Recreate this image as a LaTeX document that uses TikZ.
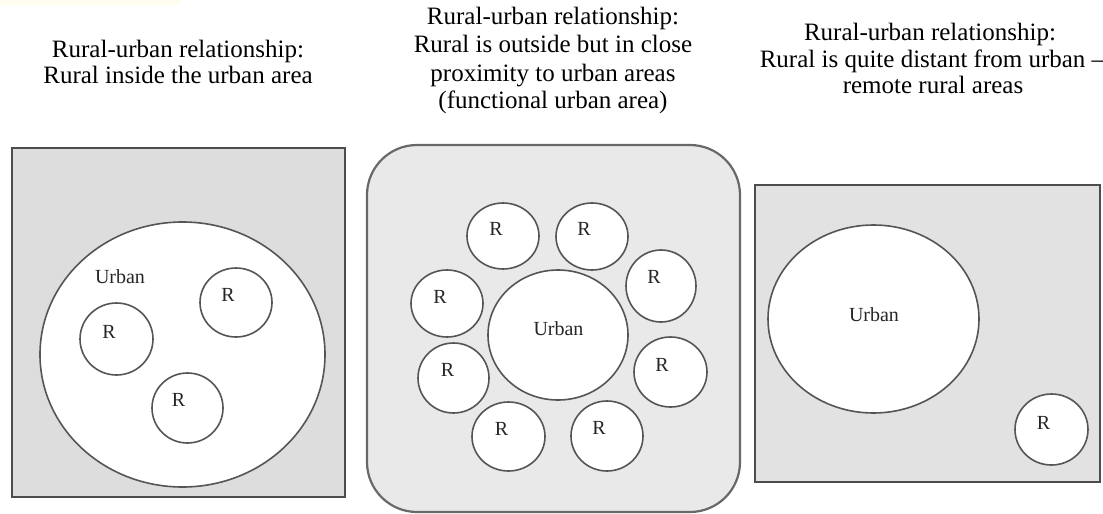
\documentclass[tikz,border=0pt]{standalone}
\usepackage{fontspec}
\setmainfont{Liberation Serif}
\definecolor{lineg}{HTML}{555555}
\definecolor{frameg}{HTML}{4D4D4D}
\definecolor{fillA}{HTML}{DDDDDD}
\definecolor{fillB}{HTML}{E9E9E9}
\definecolor{fillC}{HTML}{E2E2E2}
\definecolor{cream}{HTML}{FEFDF0}
\tikzset{
  title/.style={anchor=base, inner sep=0pt, font=\fontsize{12.5}{14}\selectfont, text=black},
  lab/.style={inner sep=0pt, font=\fontsize{10}{12}\selectfont, text=black!85},
  panelframe/.style={draw=frameg, line width=1.4pt},
  ring/.style={draw=lineg, line width=0.8pt, fill=white},
}
\begin{document}
\begin{tikzpicture}[x=0.5pt,y=-0.5pt]
\useasboundingbox (0,0) rectangle (1103,514);
\fill[white] (0,0) rectangle (1103,514);
\fill[cream] (0,0) rectangle (180,5);

% ---------- titles ----------
\node[title] (t1a) at (178,57) {Rural-urban relationship:};
\node[title] (t1b) at (178,83) {Rural inside the urban area};

\node[title] (t2a) at (553,25) {Rural-urban relationship:};
\node[title] (t2b) at (553,53) {Rural is outside but in close};
\node[title] (t2c) at (553,81) {proximity to urban areas};
\node[title] (t2d) at (553,108) {(functional urban area)};

\node[title] (t3a) at (930,40) {Rural-urban relationship:};
\node[title] (t3b) at (932,67) {Rural is quite distant from urban --};
\node[title] (t3c) at (933,93) {remote rural areas};

% ---------- panel 1 ----------
\draw[panelframe, fill=fillA] (12,148) rectangle (345,497);
\draw[ring] (182.5,354.5) ellipse [x radius=71.25pt, y radius=66.25pt];
\draw[ring] (116.5,339) ellipse [x radius=18.25pt, y radius=18pt];
\draw[ring] (236,302.5) ellipse [x radius=18pt, y radius=17.25pt];
\draw[ring] (187.5,408) ellipse [x radius=17.75pt, y radius=17.5pt];
\node[lab] (u1) at (120,277) {Urban};
\node[lab] (r1a) at (109,332) {R};
\node[lab] (r1b) at (228,295) {R};
\node[lab] (r1c) at (178.5,400) {R};

% ---------- panel 2 ----------
\draw[draw=frameg!85, line width=1.1pt, fill=fillB, rounded corners=25pt] (367,145) rectangle (740,512);
\draw[ring] (558,335) ellipse [x radius=35pt, y radius=32.5pt];
\draw[ring] (503,236) ellipse [x radius=18pt, y radius=16.5pt];
\draw[ring] (592,236.5) ellipse [x radius=18pt, y radius=16.75pt];
\draw[ring] (661,286) ellipse [x radius=17.5pt, y radius=18pt];
\draw[ring] (447,303.5) ellipse [x radius=18pt, y radius=16.75pt];
\draw[ring] (453.5,378) ellipse [x radius=17.75pt, y radius=17.5pt];
\draw[ring] (670.5,372) ellipse [x radius=18.25pt, y radius=17.5pt];
\draw[ring] (508.5,436.5) ellipse [x radius=18.25pt, y radius=17.25pt];
\draw[ring] (607,436) ellipse [x radius=18pt, y radius=17.5pt];
\node[lab] (u2) at (558.5,329) {Urban};
\node[lab] (r2a) at (496,229) {R};
\node[lab] (r2b) at (584,229) {R};
\node[lab] (r2c) at (654,277) {R};
\node[lab] (r2d) at (440,296.5) {R};
\node[lab] (r2e) at (447.5,370) {R};
\node[lab] (r2f) at (662,364.5) {R};
\node[lab] (r2g) at (501.5,429) {R};
\node[lab] (r2h) at (599,428) {R};

% ---------- panel 3 ----------
\draw[panelframe, fill=fillC] (755,185) rectangle (1100,482);
\draw[ring] (873.5,319) ellipse [x radius=52.75pt, y radius=47pt];
\draw[ring] (1051.5,429.5) ellipse [x radius=18.25pt, y radius=17.75pt];
\node[lab] (u3) at (874,315) {Urban};
\node[lab] (r3) at (1043.5,423) {R};
\end{tikzpicture}
\end{document}
